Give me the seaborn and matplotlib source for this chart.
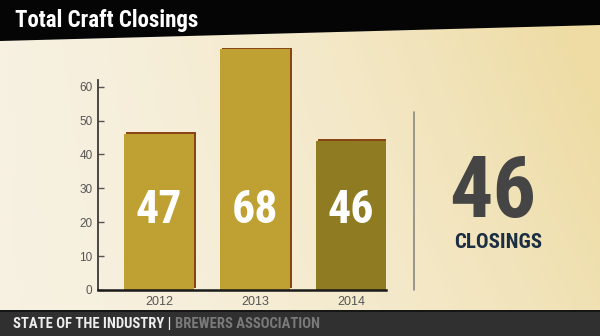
import numpy as np
import pandas as pd
import matplotlib
matplotlib.use("Agg")
import matplotlib.pyplot as plt
import matplotlib.patheffects as pe
from matplotlib.colors import LinearSegmentedColormap
from matplotlib import font_manager as fm
import seaborn as sns

# ---- data ----
years = ["2012", "2013", "2014"]
bar_heights = [46, 71, 44]          # drawn bar heights
bar_labels = ["47", "68", "46"]     # numbers printed on the bars
bar_colors = ["#BFA032", "#BFA032", "#8E7B22"]
yticks = [0, 10, 20, 30, 40, 50, 60]
title = "Total Craft Closings"
big_number = "46"
big_caption = "CLOSINGS"
footer_a = "STATE OF THE INDUSTRY | "
footer_b = "BREWERS ASSOCIATION"

sns.set_style("white")
installed = {f.name for f in fm.fontManager.ttflist}
cands = ["Roboto Condensed", "DejaVu Sans Condensed", "Liberation Sans Narrow",
         "Roboto", "DejaVu Sans"]
NARROW = [c for c in cands if c in installed] or ["DejaVu Sans"]
plt.rcParams["font.family"] = ["Liberation Sans", "DejaVu Sans"]

W, H = 600, 336
fig = plt.figure(figsize=(W / 100, H / 100), dpi=100)

# ---- background ----
bg = fig.add_axes([0, 0, 1, 1], zorder=0)
bg.set_xlim(0, W)
bg.set_ylim(H, 0)
bg.axis("off")
xx, yy = np.meshgrid(np.linspace(0, 1, 300), np.linspace(0, 1, 170))
grad = np.clip(0.75 * xx ** 1.6 + 0.35 * (1 - yy) * xx, 0, 1)
cmap = LinearSegmentedColormap.from_list("bg", ["#F7F1E1", "#F3E7C4", "#EEDCA4"])
bg.imshow(grad, cmap=cmap, extent=[0, W, H, 0], aspect="auto", interpolation="bilinear")
bg.add_patch(plt.Polygon([[0, 0], [W, 0], [W, 25], [0, 41]], closed=True,
                         facecolor="#050505", edgecolor="none"))
bg.add_patch(plt.Rectangle((0, 310), W, 26, facecolor="#303030", edgecolor="none"))
bg.plot([0, W], [310.5, 310.5], color="#111111", lw=1.2)
bg.text(15, 20, title, color="white", fontsize=16.5, fontweight="bold",
        family=NARROW, fontstretch="condensed", va="center", ha="left")
t1 = bg.text(13, 324, footer_a, color="#EEEEEE", fontsize=10.5, fontweight="bold",
             family=NARROW, fontstretch="condensed", va="center", ha="left")
fig.canvas.draw()
bb = t1.get_window_extent()
bg.text(bb.x1, 324, footer_b, color="#7A7A7A", fontsize=10.5, fontweight="bold",
        family=NARROW, fontstretch="condensed", va="center", ha="left")

# divider and big number
bg.plot([414, 414], [112, 290], color="#8A8A80", lw=1.2)
bg.text(493, 193, big_number, color="#454545", fontsize=62, fontweight="bold",
        family=NARROW, fontstretch="condensed", va="center", ha="center")
bg.text(498, 243, big_caption, color="#1C2E42", fontsize=15, fontweight="bold",
        family=NARROW, fontstretch="condensed", va="center", ha="center")

# ---- chart ----
ax = fig.add_axes([98 / W, 46 / H, 288 / W, 245 / H], zorder=2)
ax.patch.set_alpha(0)
df = pd.DataFrame({"year": years, "value": bar_heights})
sns.barplot(data=df, x="year", y="value", hue="year", palette=bar_colors,
            width=0.73, legend=False, ax=ax, saturation=1)
for p in ax.patches:
    p.set_edgecolor("none")
    p.set_path_effects([pe.SimplePatchShadow(offset=(1.3, 1.3), shadow_rgbFace="#8A4514", alpha=1),
                        pe.Normal()])
for i, lab in enumerate(bar_labels):
    ax.text(i, 23.5, lab, color="white", fontsize=33, fontweight="bold",
            family=NARROW, fontstretch="condensed", ha="center", va="center")

ax.set_xlim(-0.635, 2.365)
ax.set_ylim(0, 72.3)
ax.set_yticks(yticks)
ax.set_xlabel("")
ax.set_ylabel("")
for s in ["top", "right"]:
    ax.spines[s].set_visible(False)
ax.spines["left"].set_bounds(0, 62)
ax.spines["left"].set_color("#3A3A3A")
ax.spines["left"].set_linewidth(1.3)
ax.spines["bottom"].set_color("#1A1A1A")
ax.spines["bottom"].set_linewidth(1.8)
ax.tick_params(axis="y", direction="in", length=4, width=1, color="#555555",
               labelcolor="#555555", labelsize=8.5, pad=4, left=True)
ax.tick_params(axis="x", length=0, labelcolor="#555555", labelsize=9, pad=4)

fig.savefig("out.png", dpi=100)
